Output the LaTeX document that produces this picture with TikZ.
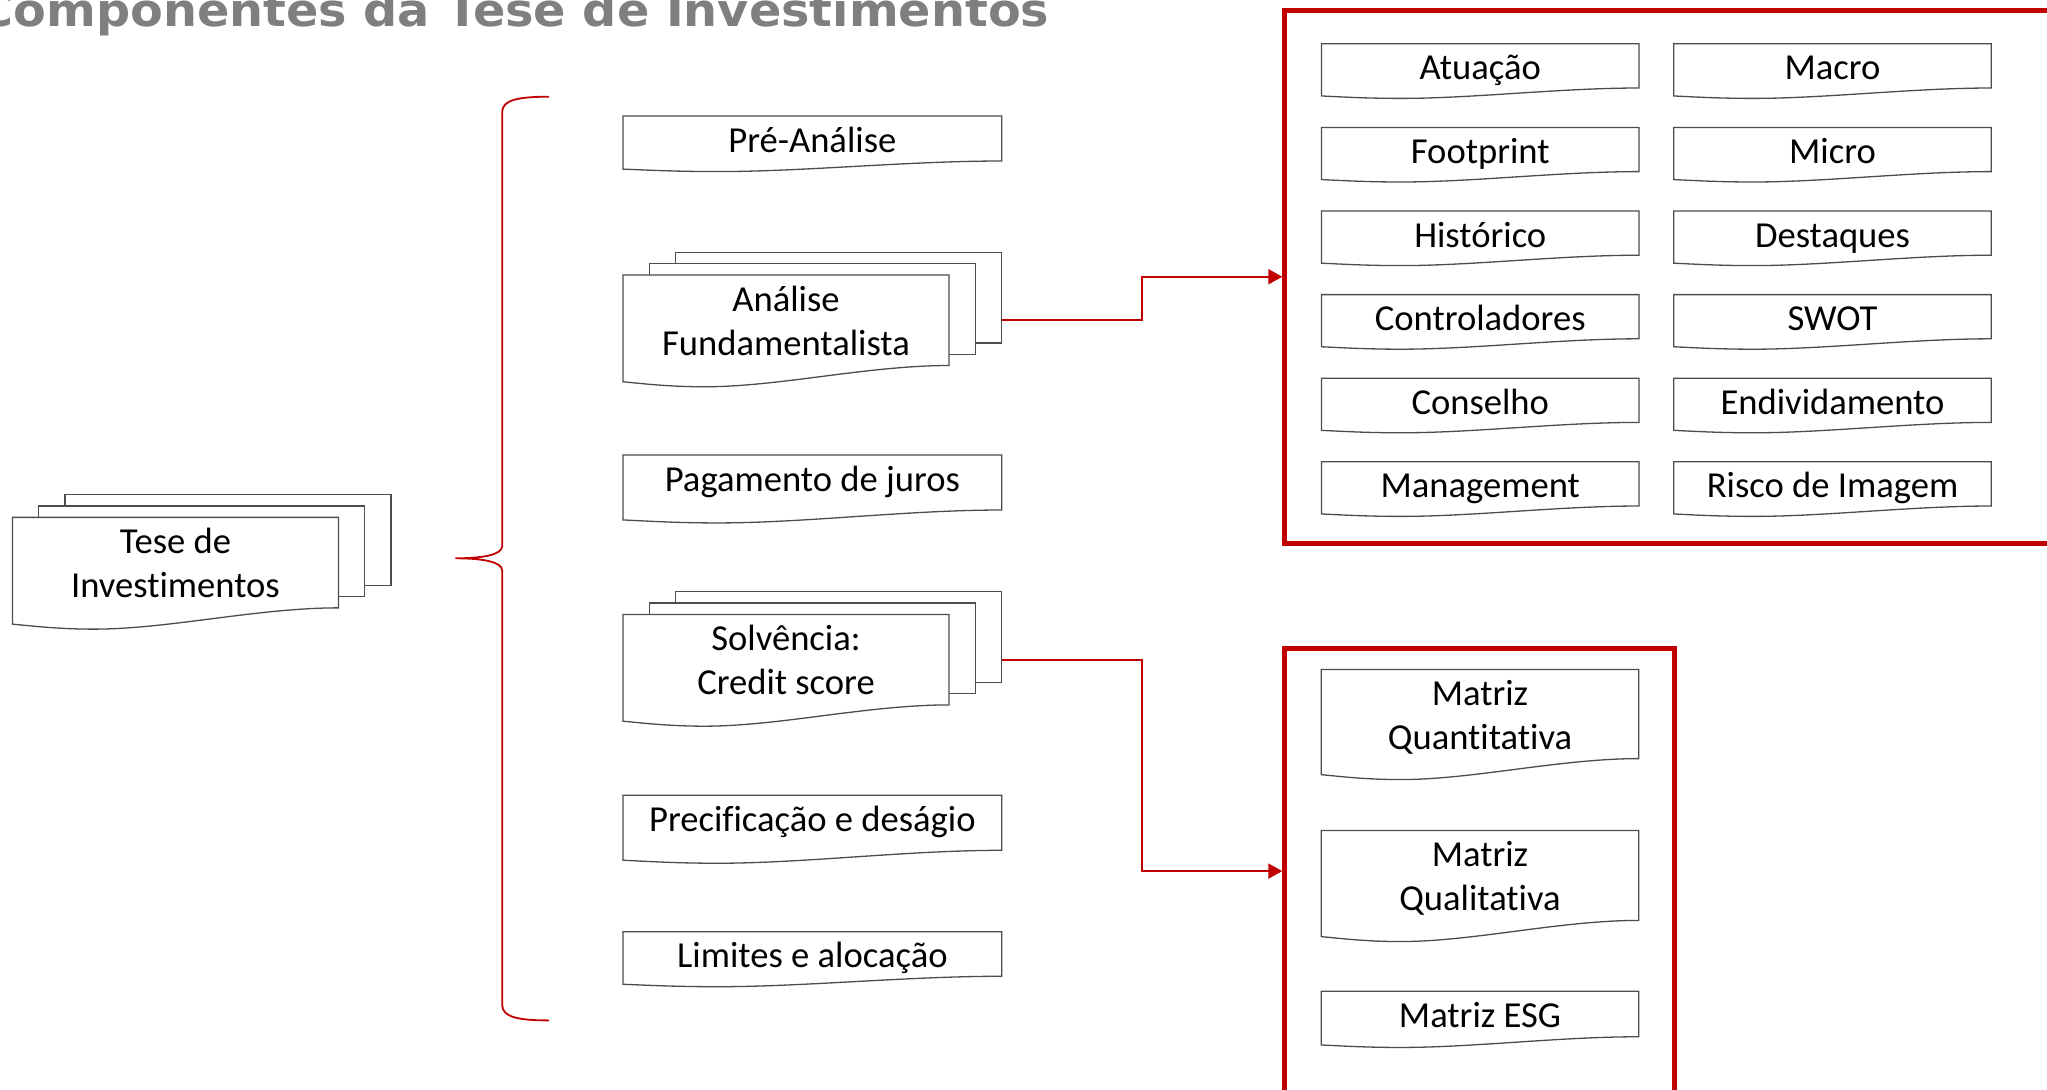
\documentclass[tikz,border=0pt]{standalone}
\usepackage{fontspec}
\setmainfont{Carlito}[Ligatures={NoCommon}]
\newfontfamily\headfont{DejaVu Sans}
\usepackage{graphicx}
\usepackage{tikz}
\usetikzlibrary{calc,arrows.meta,backgrounds}
\definecolor{thesisred}{HTML}{C00000}
\definecolor{headgray}{HTML}{7F7F7F}
\def\docshape[#1](#2){\draw[#1] let \p1=(#2.south west), \p2=(#2.north east), \p3=($(#2.north east)-(#2.south west)$) in (\x1,\y2) -- (\x2,\y2) -- (\x2,\y1) .. controls (\x2-0.25*\x3,\y1) and (\x1+0.48*\x3,\y1-0.235*\y3) .. (\x1+0.25*\x3,\y1-0.235*\y3) .. controls (\x1+0.14*\x3,\y1-0.235*\y3) and (\x1+0.06*\x3,\y1-0.2*\y3) .. (\x1,\y1-0.18*\y3) -- cycle;}
\def\pageshape[#1](#2){\draw[#1] (#2.north west) rectangle (#2.south east);}
\newcommand\firstline{\rule{0pt}{18pt}}
\newcommand\lastline[1]{\rule[-#1]{0pt}{#1}}
\tikzset{
	docnode/.style={rectangle, inner sep=0pt, outer sep=0pt, align=center, font=\fontsize{18.3}{22}\selectfont},
	oneline/.style={text height=18pt, text depth=#1},
	single/.style={docnode, minimum width=189.35pt},
	pagestack/.style={docnode, minimum width=163pt, minimum height=45.25pt},
	gridnode/.style={docnode, minimum width=158.75pt, minimum height=22.1pt},
	page/.style={draw=black!70, line width=0.65pt, fill=white},
	redframe/.style={draw=thesisred, line width=2.5pt, rectangle},
	link/.style={draw=thesisred, line width=1pt, -{Triangle[length=7pt,width=7.5pt]}},
	brace/.style={draw=thesisred, line width=0.9pt}
}
\begin{document}
\begin{tikzpicture}[x=0.5pt, y=-0.5pt]
		%%%%% START %%%%%
		\useasboundingbox (0,0) rectangle (2047,1089);
		
		\node[anchor=base west, text=headgray, inner sep=0pt] (title) at (-22,26) {\resizebox{535.5pt}{\height}{\headfont\bfseries\fontsize{22.8}{26}\selectfont Componentes da Tese de Investimentos}};
		
		\node[pagestack] (teseF) at (175.45,562.6) {\firstline Tese de\\Investimentos\lastline{5.25pt}};
		\node[pagestack] (teseM) at (201.75,551.3) {};
		\node[pagestack] (teseB) at (228.05,540) {};
		
		\draw[brace] (549,96.7) .. controls (518,96.7) and (502.2,100) .. (502.2,112) -- (502.2,546) .. controls (502.2,555) and (482,558.3) .. (455.4,558.3) .. controls (482,558.3) and (502.2,561.6) .. (502.2,570.6) -- (502.2,1005) .. controls (502.2,1017) and (518,1020.4) .. (549,1020.4);
		
		\node[single, minimum height=22.5pt, oneline=4.5pt] (pre) at (812.35,138.5) {Pré-Análise};
		\node[pagestack] (anaF) at (786,320.25) {\firstline Análise\\Fundamentalista\lastline{5.25pt}};
		\node[pagestack] (anaM) at (812.3,308.95) {};
		\node[pagestack] (anaB) at (838.6,297.65) {};
		\node[single, minimum height=27.5pt, oneline=9.5pt] (pag) at (812.35,482.5) {Pagamento de juros};
		\node[pagestack] (solF) at (786,659.65) {\firstline Solvência:\\Credit score\lastline{5.25pt}};
		\node[pagestack] (solM) at (812.3,648.35) {};
		\node[pagestack] (solB) at (838.6,637.05) {};
		\node[single, minimum height=27.5pt, oneline=9.5pt] (prec) at (812.35,822.8) {Precificação e deságio};
		\node[single, minimum height=22.25pt, oneline=4.25pt] (lim) at (812.35,954) {Limites e alocação};
		
		\node[redframe, minimum width=388.6pt, minimum height=266.75pt] (boxA) at (1673.4,276.75) {};
		\node[gridnode, oneline=4.1pt] (atuacao) at (1480.25,65.9) {Atuação};
		\node[gridnode, oneline=4.1pt] (footprint) at (1480.25,149.5) {Footprint};
		\node[gridnode, oneline=4.1pt] (historico) at (1480.25,233.1) {Histórico};
		\node[gridnode, oneline=4.1pt] (controladores) at (1480.25,316.7) {Controladores};
		\node[gridnode, oneline=4.1pt] (conselho) at (1480.25,400.3) {Conselho};
		\node[gridnode, oneline=4.1pt] (management) at (1480.25,483.9) {Management};
		\node[gridnode, oneline=4.1pt] (macro) at (1832.5,65.9) {Macro};
		\node[gridnode, oneline=4.1pt] (micro) at (1832.5,149.5) {Micro};
		\node[gridnode, oneline=4.1pt] (destaques) at (1832.5,233.1) {Destaques};
		\node[gridnode, oneline=4.1pt] (swot) at (1832.5,316.7) {SWOT};
		\node[gridnode, oneline=4.1pt] (endividamento) at (1832.5,400.3) {Endividamento};
		\node[gridnode, oneline=4.1pt] (risco) at (1832.5,483.9) {Risco de Imagem};
		
		\node[redframe, minimum width=194.7pt, minimum height=222.9pt] (boxB) at (1479.5,871.1) {};
		\node[gridnode, minimum height=44.6pt] (mquan) at (1480,714) {\firstline Matriz\\Quantitativa\lastline{4.6pt}};
		\node[gridnode, minimum height=45pt] (mqual) at (1480,875.4) {\firstline Matriz\\Qualitativa\lastline{5pt}};
		\node[gridnode, minimum height=22.75pt, oneline=4.75pt] (mesg) at (1480,1014) {Matriz ESG};
		
		\begin{pgfonlayer}{background}
			\pageshape[page](teseB) \pageshape[page](teseM) \docshape[page](teseF)
			\docshape[page](pre)
			\pageshape[page](anaB) \pageshape[page](anaM) \docshape[page](anaF)
			\docshape[page](pag)
			\pageshape[page](solB) \pageshape[page](solM) \docshape[page](solF)
			\docshape[page](prec)
			\docshape[page](lim)
			\docshape[page](atuacao) \docshape[page](footprint) \docshape[page](historico)
			\docshape[page](controladores) \docshape[page](conselho) \docshape[page](management)
			\docshape[page](macro) \docshape[page](micro) \docshape[page](destaques)
			\docshape[page](swot) \docshape[page](endividamento) \docshape[page](risco)
			\docshape[page](mquan) \docshape[page](mqual) \docshape[page](mesg)
		\end{pgfonlayer}
		
		\draw[link] (anaB.east |- anaF) -| ($(anaB.east)!.5!(boxA.west)$) |- (boxA.west);
		\draw[link] (solB.east |- solF) -| ($(solB.east)!.5!(boxB.west)$) |- (boxB.west);
		
		%%%%% END %%%%%
\end{tikzpicture}
\end{document}
